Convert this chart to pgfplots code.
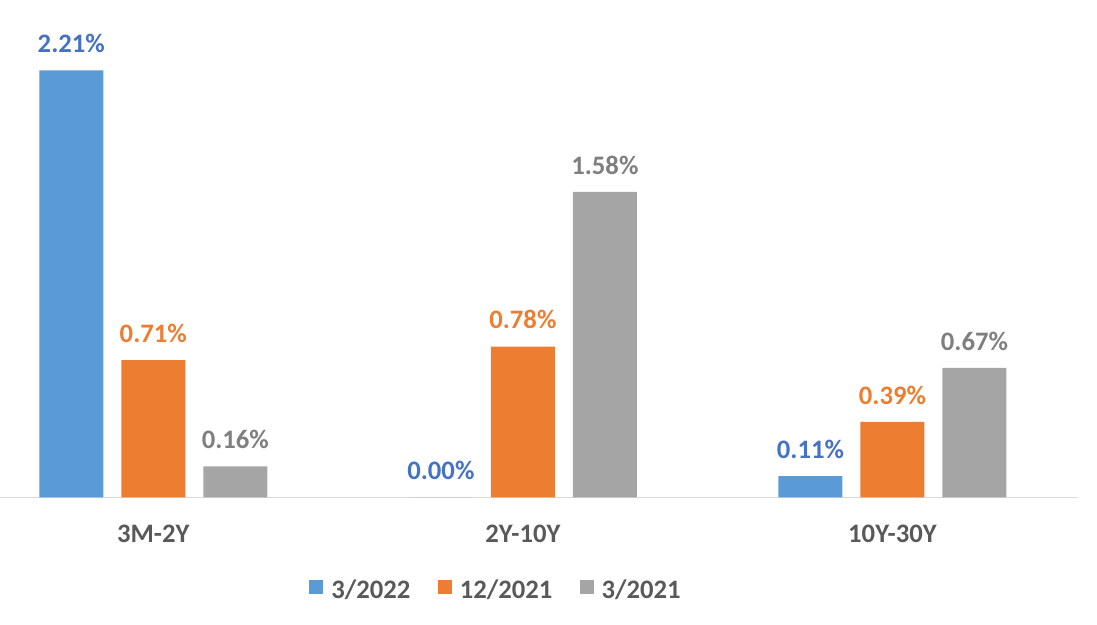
\documentclass[border=0pt]{standalone}
\usepackage{pgfplots}
\pgfplotsset{compat=1.18}
\usepackage{fontspec}
\setmainfont{Carlito}

\definecolor{barblue}{HTML}{5B9BD5}
\definecolor{barorange}{HTML}{ED7D31}
\definecolor{bargray}{HTML}{A5A5A5}
\definecolor{lblblue}{HTML}{4472C4}
\definecolor{lblgray}{HTML}{7F7F7F}
\definecolor{txtgray}{HTML}{595959}
\definecolor{axgray}{HTML}{D9D9D9}

\begin{document}
\begin{tikzpicture}
\begin{axis}[
    at={(0pt,95.8pt)}, anchor=south west,
    scale only axis,
    width=808.5pt, height=373pt,
    ybar=13.5pt,
    bar width=48pt,
    xmin=-0.4148, xmax=2.502,
    ymin=0, ymax=2.574,
    enlargelimits=false,
    clip=false,
    axis x line*=bottom,
    axis y line=none,
    axis line style={draw=axgray, line width=1.1pt},
    xtick={0,1,2},
    xticklabels={3M-2Y, 2Y-10Y, 10Y-30Y},
    major tick length=0pt,
    ytick=\empty,
    xticklabel style={font=\fontsize{20}{24}\selectfont\bfseries, text=txtgray,
        anchor=base, inner sep=0pt, yshift=-34.3pt},
    nodes near coords={\pgfmathprintnumber[fixed,fixed zerofill,precision=2,assume math mode=true]{\pgfplotspointmeta}\%},
    every node near coord/.append style={font=\fontsize{20}{24}\selectfont\bfseries,
        anchor=base, inner sep=0pt, yshift=13.3pt},
    legend columns=-1,
    legend image code/.code={\fill[#1] (0pt,-3pt) rectangle (10.5pt,7.5pt);},
    legend style={draw=none, fill=none, inner sep=0pt, outer sep=0pt,
        at={(0.287,-0.207)}, anchor=south west,
        font=\fontsize{20}{24}\selectfont\bfseries, text=txtgray,
        nodes={inner sep=0pt},
        /tikz/every odd column/.append style={column sep=6pt},
        /tikz/every even column/.append style={column sep=20.5pt}},
]
\addplot[fill=barblue, draw=none, every node near coord/.append style={text=lblblue}]
    coordinates {(0,2.21) (1,0.00) (2,0.11)};
\addplot[fill=barorange, draw=none, every node near coord/.append style={text=barorange}]
    coordinates {(0,0.71) (1,0.78) (2,0.39)};
\addplot[fill=bargray, draw=none, every node near coord/.append style={text=lblgray}]
    coordinates {(0,0.16) (1,1.58) (2,0.67)};
\legend{3/2022, 12/2021, 3/2021}
\end{axis}
\pgfresetboundingbox
\useasboundingbox (0pt,0pt) rectangle (822.75pt,468.75pt);
\end{tikzpicture}
\end{document}
